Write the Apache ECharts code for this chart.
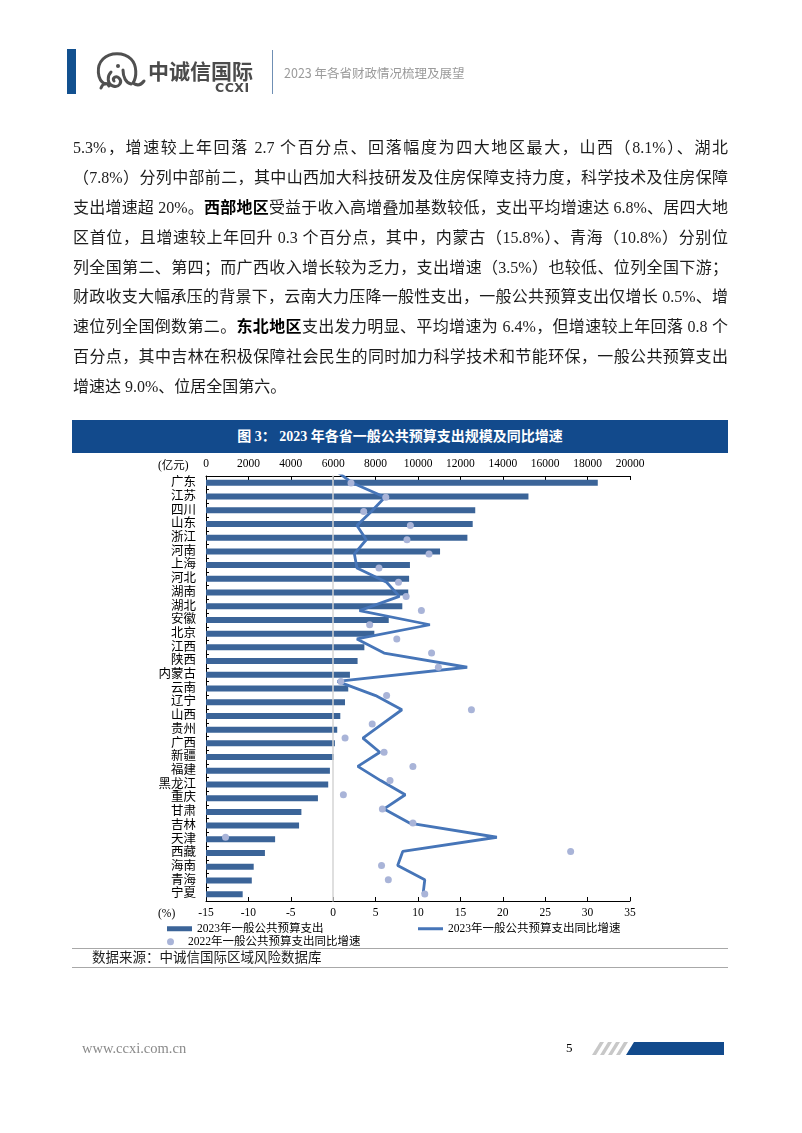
<!DOCTYPE html>
<html>
<head>
<meta charset="utf-8">
<script src="https://cdn.jsdelivr.net/npm/echarts@6/dist/echarts.min.js"></script>
<style>
  html, body { margin: 0; padding: 0; background: #fff; }
  body { width: 802px; height: 1133px; position: relative; overflow: hidden; }
  #chart { position: absolute; left: 0; top: 0; width: 802px; height: 1133px; z-index: 0; }
  .abs { position: absolute; z-index: 1; }
  .serif { font-family: "Liberation Serif", "Noto Sans CJK SC", serif; }
  .sans { font-family: "Noto Sans CJK SC", "Noto Sans", sans-serif; }
  #body { left: 73px; top: 133px; width: 655px; font-size: 16px; line-height: 29.9px; color: #1c1c1c; }
  #body div { text-align: justify; text-align-last: justify; height: 29.9px; }
  #body div.last { text-align-last: left; }
  #body b { font-weight: 700; color: #000; }
</style>
</head>
<body>
<!-- header -->
<div class="abs" style="left:67px;top:49px;width:9px;height:45px;background:#12508f;"></div>
<svg class="abs" style="left:93px;top:50px;" width="54" height="42" viewBox="0 0 54 42">
  <g fill="none" stroke="#505050" stroke-width="3" stroke-linecap="round">
    <path d="M12,34 C4,30 3,16 10,9 C17,2 31,2 38,9 C44,15 44,27 40,33"/>
    <path d="M40,33 C44,36 48,35 51,31"/>
    <path d="M18,22 C14,26 14,34 20,36 C26,38 30,32 26,28 C23,25 19,28 21,31"/>
    <path d="M30,20 C30,27 33,33 38,34"/>
    <path d="M8,38 C10,33 14,32 16,36"/>
  </g>
  <circle cx="25" cy="16" r="2" fill="#505050"/>
</svg>
<div class="abs sans" style="left:148px;top:57px;font-size:21px;font-weight:700;color:#4b4b4b;line-height:26px;letter-spacing:0px;">中诚信国际</div>
<div class="abs" style="left:215px;top:80px;font-family:'DejaVu Sans','Noto Sans',sans-serif;font-size:12.5px;font-weight:700;color:#4b4b4b;line-height:15px;letter-spacing:0.5px;">CCXI</div>
<div class="abs" style="left:272px;top:50px;width:1px;height:44px;background:#6f8fb4;"></div>
<div class="abs sans" style="left:284px;top:63px;font-size:12.5px;color:#9a9a9a;line-height:20px;">2023 年各省财政情况梳理及展望</div>

<!-- body text -->
<div id="body" class="abs serif">
  <div>5.3%，增速较上年回落 2.7 个百分点、回落幅度为四大地区最大，山西（8.1%）、湖北</div>
  <div>（7.8%）分列中部前二，其中山西加大科技研发及住房保障支持力度，科学技术及住房保障</div>
  <div>支出增速超 20%。<b>西部地区</b>受益于收入高增叠加基数较低，支出平均增速达 6.8%、居四大地</div>
  <div>区首位，且增速较上年回升 0.3 个百分点，其中，内蒙古（15.8%）、青海（10.8%）分别位</div>
  <div>列全国第二、第四；而广西收入增长较为乏力，支出增速（3.5%）也较低、位列全国下游；</div>
  <div>财政收支大幅承压的背景下，云南大力压降一般性支出，一般公共预算支出仅增长 0.5%、增</div>
  <div>速位列全国倒数第二。<b>东北地区</b>支出发力明显、平均增速为 6.4%，但增速较上年回落 0.8 个</div>
  <div>百分点，其中吉林在积极保障社会民生的同时加力科学技术和节能环保，一般公共预算支出</div>
  <div class="last">增速达 9.0%、位居全国第六。</div>
</div>

<!-- chart title banner -->
<div class="abs serif" style="left:72px;top:420px;width:656px;height:33px;background:#124a8c;color:#fff;font-size:14px;font-weight:700;line-height:33px;text-align:center;">图 3：&nbsp;2023 年各省一般公共预算支出规模及同比增速</div>

<!-- data source -->
<div class="abs" style="left:72px;top:948px;width:656px;height:18px;border-top:1px solid #a8a8a8;border-bottom:1px solid #a8a8a8;"></div>
<div class="abs serif" style="left:92px;top:948px;font-size:13.5px;line-height:19px;color:#1c1c1c;">数据来源：中诚信国际区域风险数据库</div>

<!-- footer -->
<div class="abs serif" style="left:82px;top:1039px;font-size:14.5px;line-height:18px;color:#8a8a8a;">www.ccxi.com.cn</div>
<div class="abs serif" style="left:566px;top:1039px;font-size:13px;line-height:18px;color:#000;">5</div>
<svg class="abs" style="left:588px;top:1041px;" width="140" height="15" viewBox="0 0 140 15">
  <g fill="#c8c8c8">
    <polygon points="4,14 8,14 16,1 12,1"/>
    <polygon points="12,14 16,14 24,1 20,1"/>
    <polygon points="20,14 24,14 32,1 28,1"/>
    <polygon points="28,14 32,14 40,1 36,1"/>
  </g>
  <polygon points="38,14 136,14 136,1 46,1" fill="#124a8c"/>
</svg>

<div id="chart"></div>
<script>
// ---------- data ----------
const provinces = ['广东','江苏','四川','山东','浙江','河南','上海','河北','湖南','湖北','安徽','北京','江西','陕西','内蒙古','云南','辽宁','山西','贵州','广西','新疆','福建','黑龙江','重庆','甘肃','吉林','天津','西藏','海南','青海','宁夏'];
// 2023 general public budget expenditure (亿元)
const spend2023 = [18480, 15210, 12700, 12580, 12330, 11040, 9620, 9580, 9540, 9260, 8620, 7940, 7470, 7150, 6790, 6710, 6557, 6335, 6190, 6080, 6030, 5845, 5765, 5280, 4500, 4390, 3260, 2780, 2250, 2160, 1730];
// 2023 YoY growth (%)
const growth2023 = [0.0, 2.3, 6.1, 4.5, 2.8, 3.9, 2.5, 2.8, 6.3, 7.8, 3.1, 11.4, 2.8, 6.0, 15.8, 0.5, 5.0, 8.1, 5.8, 3.5, 5.5, 2.9, 5.6, 8.5, 6.0, 9.0, 19.3, 8.2, 7.6, 10.8, 10.6];
// 2022 YoY growth (%)
const growth2022 = [1.4, 2.1, 6.2, 3.6, 9.1, 8.7, 11.3, 5.4, 7.7, 8.6, 10.4, 4.3, 7.5, 11.6, 12.4, 0.9, 6.3, 16.3, 4.6, 1.4, 6.0, 9.4, 6.7, 1.2, 5.8, 9.4, -12.7, 28.0, 5.7, 6.5, 10.8];
const seriesNames = ['2023年一般公共预算支出', '2023年一般公共预算支出同比增速', '2022年一般公共预算支出同比增速'];
const amountAxis = { min: 0, max: 20000, interval: 2000 };
const pctAxis = { min: -15, max: 35, interval: 5 };

// ---------- chart ----------
const FONT = "'Liberation Serif','Noto Sans CJK SC',serif";
const chart = echarts.init(document.getElementById('chart'), null, { renderer: 'canvas' });
const axisBase = {
  axisLine: { show: true, onZero: false, lineStyle: { color: '#000', width: 1 } },
  axisTick: { show: true, inside: true, length: 4, lineStyle: { color: '#000', width: 1 } },
  axisLabel: { color: '#000', fontSize: 11.5, fontFamily: FONT, margin: 6, formatter: v => String(v) },
  splitLine: { show: false }
};
const legendBase = {
  padding: 0, itemGap: 0,
  textStyle: { color: '#000', fontSize: 11.5, fontFamily: FONT },
  selectedMode: false
};
chart.setOption({
  animation: false,
  grid: { left: 206, top: 476, width: 424, height: 425, containLabel: false },
  xAxis: [
    Object.assign({}, axisBase, { type: 'value', position: 'top', min: amountAxis.min, max: amountAxis.max, interval: amountAxis.interval }),
    Object.assign({}, axisBase, { type: 'value', position: 'bottom', min: pctAxis.min, max: pctAxis.max, interval: pctAxis.interval })
  ],
  yAxis: [
    {
      type: 'category', data: provinces, inverse: true, position: 'left',
      axisLine: { show: true, onZero: false, lineStyle: { color: '#000', width: 1 } },
      axisTick: { show: true, inside: true, length: 3, lineStyle: { color: '#000' } },
      axisLabel: { interval: 0, color: '#000', fontSize: 12.5, fontFamily: FONT, margin: 10 },
      splitLine: { show: false }
    },
    {
      type: 'value', min: 0.5, max: 30.5, inverse: true, position: 'left', z: 3,
      axisLine: { show: true, onZero: true, onZeroAxisIndex: 1, lineStyle: { color: '#d4d4d4', width: 1.5 } },
      axisTick: { show: false }, axisLabel: { show: false }, splitLine: { show: false }
    }
  ],
  legend: [
    Object.assign({}, legendBase, { left: 167, top: 923, itemWidth: 25, itemHeight: 5, data: [{ name: seriesNames[0], icon: 'rect' }] }),
    Object.assign({}, legendBase, { left: 418, top: 923, itemWidth: 25, itemHeight: 3, data: [{ name: seriesNames[1], icon: 'rect' }] }),
    Object.assign({}, legendBase, { left: 167, top: 936, itemWidth: 25, itemHeight: 7, data: [{ name: seriesNames[2], icon: 'circle' }] })
  ],
  graphic: [
    { type: 'text', x: 158, y: 466, style: { text: '(亿元)', fill: '#000', fontSize: 11.5, fontFamily: FONT, verticalAlign: 'middle' } },
    { type: 'text', x: 158, y: 914, style: { text: '(%)', fill: '#000', fontSize: 11.5, fontFamily: FONT, verticalAlign: 'middle' } }
  ],
  series: [
    {
      name: seriesNames[0], type: 'bar', xAxisIndex: 0, yAxisIndex: 0,
      data: spend2023, barWidth: 6, itemStyle: { color: '#3b6498' }, z: 2
    },
    {
      name: seriesNames[1], type: 'line', xAxisIndex: 1, yAxisIndex: 1,
      data: growth2023.map((v, i) => [v, i]), showSymbol: false, symbol: 'none', clip: true,
      lineStyle: { color: '#4675b8', width: 2.8 }, itemStyle: { color: '#4675b8' }, z: 4
    },
    {
      name: seriesNames[2], type: 'scatter', xAxisIndex: 1, yAxisIndex: 1,
      data: growth2022.map((v, i) => [v, i]), symbolSize: 7, clip: true,
      itemStyle: { color: '#a9b4d8', opacity: 1 }, z: 5
    }
  ]
});
</script>
</body>
</html>
